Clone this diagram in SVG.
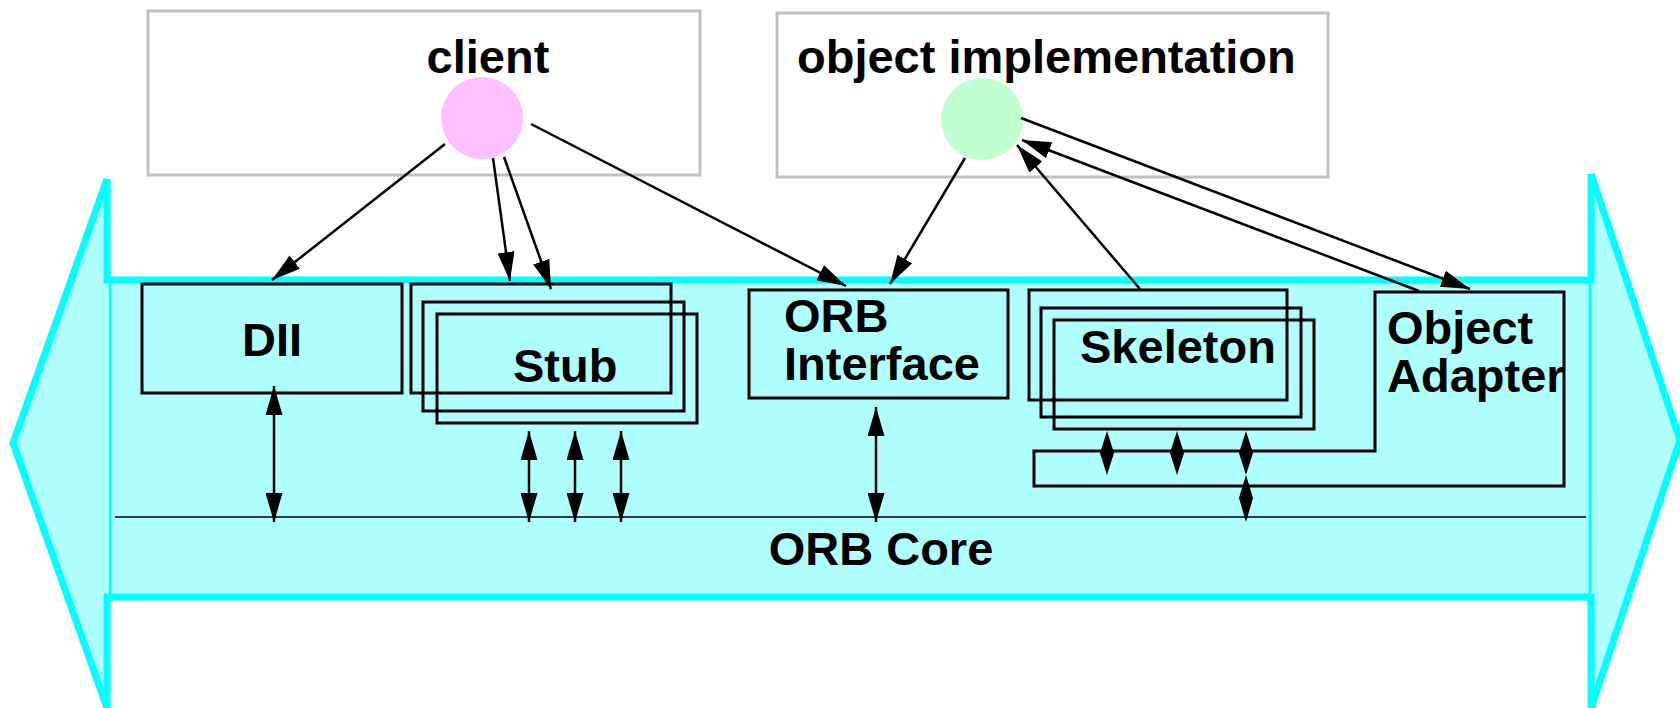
<svg xmlns="http://www.w3.org/2000/svg" width="1680" height="708" viewBox="0 0 1680 708">
<style>
.lbl{font-family:"Liberation Sans",Arial,sans-serif;font-weight:bold;font-size:47px;fill:#000}
.box{fill:none;stroke:#000;stroke-width:3}
.gbox{fill:#fff;stroke:#c0c0c0;stroke-width:3}
.cy{stroke:#00ffff;fill:none}
.ln{stroke:#000;stroke-width:2.5;fill:none}
.ar{marker-end:url(#ah)}
.dar{marker-start:url(#ahs);marker-end:url(#ah)}
</style>
<defs>
<marker id="ah" markerUnits="userSpaceOnUse" markerWidth="29" markerHeight="17" refX="29" refY="8.5" orient="auto" viewBox="0 0 29 17">
<path d="M0,0 L29,8.5 L0,17 z" fill="#000"/>
</marker>
<marker id="ahs" markerUnits="userSpaceOnUse" markerWidth="29" markerHeight="17" refX="29" refY="8.5" orient="auto-start-reverse" viewBox="0 0 29 17">
<path d="M0,0 L29,8.5 L0,17 z" fill="#000"/>
</marker>
</defs>
<rect width="1680" height="708" fill="#fff"/>

<g id="orb-core">
<polygon points="107,179 13,443 107,708" fill="#b0ffff"/>
<polyline class="cy" stroke-width="7" points="107,179 13,443 107,708"/>
<polygon points="1591,174 1680,440 1591,708" fill="#b0ffff"/>
<polyline class="cy" stroke-width="7" points="1591,174 1680,440 1591,708"/>
<line class="cy" stroke-width="7" x1="107" y1="179" x2="107" y2="283"/>
<line class="cy" stroke-width="7" x1="107" y1="594" x2="107" y2="708"/>
<line class="cy" stroke-width="7" x1="1591" y1="174" x2="1591" y2="283"/>
<line class="cy" stroke-width="7" x1="1591" y1="594" x2="1591" y2="708"/>
<rect x="110" y="280" width="1480" height="317" fill="#b0ffff" stroke="#00ffff" stroke-width="3"/>
<line class="cy" stroke-width="7" x1="104" y1="280" x2="1594" y2="280"/>
<line class="cy" stroke-width="7" x1="104" y1="597" x2="1594" y2="597"/>
<line x1="115" y1="517" x2="1586" y2="517" stroke="#000" stroke-width="1.5"/>
<text class="lbl" x="881" y="565" text-anchor="middle">ORB Core</text>
</g>

<g id="client">
<rect class="gbox" x="148" y="11" width="552" height="164"/>
<text class="lbl" x="488" y="73" text-anchor="middle">client</text>
<circle cx="482" cy="118" r="41" fill="#ffc0ff"/>
</g>

<g id="object-implementation">
<rect class="gbox" x="777" y="13" width="551" height="164"/>
<text class="lbl" x="797" y="73">object implementation</text>
<circle cx="982" cy="119" r="41" fill="#c0ffd0"/>
</g>

<g id="dii">
<rect class="box" x="142" y="284" width="260" height="109"/>
<text class="lbl" x="272" y="356" text-anchor="middle">DII</text>
</g>

<g id="stub">
<rect class="box" x="411" y="284" width="260" height="109"/>
<rect class="box" x="423" y="302" width="261" height="109"/>
<rect class="box" x="437" y="314" width="260" height="109"/>
<text class="lbl" x="513" y="382">Stub</text>
</g>

<g id="orb-interface">
<rect class="box" x="749" y="290" width="259" height="108"/>
<text class="lbl" x="784" y="332">ORB</text>
<text class="lbl" x="784" y="380">Interface</text>
</g>

<g id="skeleton">
<rect class="box" x="1029" y="290" width="258" height="110"/>
<rect class="box" x="1041" y="308" width="260" height="109"/>
<rect class="box" x="1054" y="320" width="260" height="109"/>
<text class="lbl" x="1080" y="363">Skeleton</text>
</g>

<g id="object-adapter">
<path class="box" d="M1375,292 H1564 V486 H1034 V451 H1375 Z"/>
<text class="lbl" x="1387" y="344">Object</text>
<text class="lbl" x="1387" y="392">Adapter</text>
</g>

<g id="connectors">
<line class="ln ar" x1="445" y1="144" x2="272" y2="280"/>
<line class="ln ar" x1="493" y1="158" x2="510" y2="281"/>
<line class="ln ar" x1="504" y1="157" x2="551" y2="289"/>
<line class="ln ar" x1="531" y1="124" x2="846" y2="286"/>
<line class="ln ar" x1="965" y1="158" x2="890" y2="284"/>
<line class="ln ar" x1="1140" y1="289" x2="1017" y2="145"/>
<line class="ln ar" x1="1419" y1="291" x2="1022" y2="140"/>
<line class="ln ar" x1="1021" y1="118" x2="1470" y2="289"/>
<line class="ln dar" x1="274" y1="386" x2="274" y2="522"/>
<line class="ln dar" x1="529" y1="431" x2="529" y2="522"/>
<line class="ln dar" x1="575" y1="431" x2="575" y2="522"/>
<line class="ln dar" x1="621" y1="431" x2="621" y2="522"/>
<line class="ln dar" x1="876" y1="407" x2="876" y2="522"/>
<polygon points="1107,431 1114,453 1107,475 1100,453" fill="#000"/>
<polygon points="1177,431 1184,453 1177,475 1170,453" fill="#000"/>
<polygon points="1246,431 1253,453 1246,475 1239,453" fill="#000"/>
<polygon points="1246,475 1253,498 1246,522 1239,498" fill="#000"/>
</g>
</svg>
